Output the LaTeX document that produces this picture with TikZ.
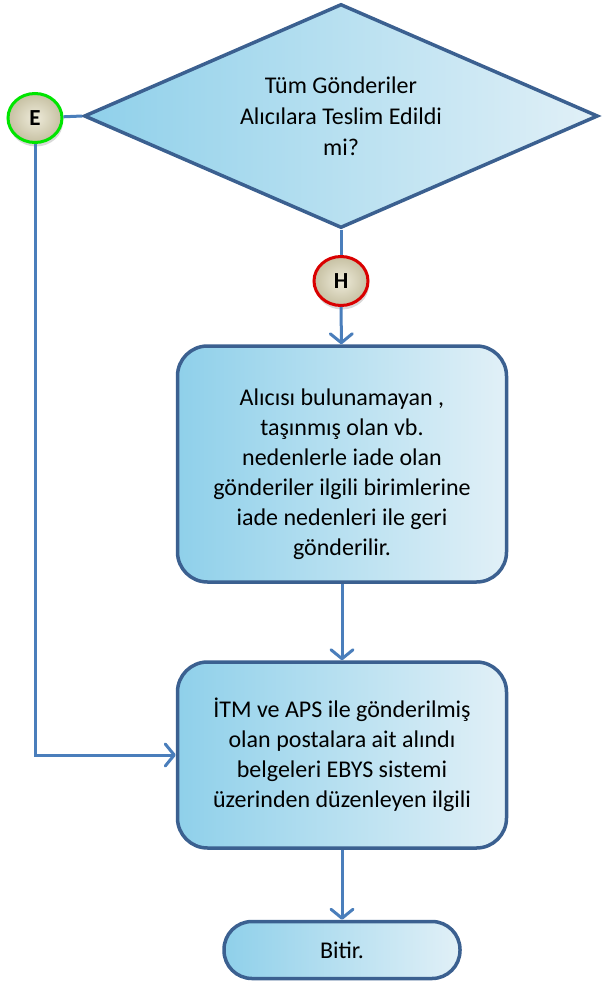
\documentclass[tikz,border=0pt]{standalone}
\usepackage{fontspec}
\setmainfont{Carlito}
\usepackage{xcolor}
\usepackage{tikz}
\usetikzlibrary{positioning,shapes.geometric,arrows.meta,shadows}

\definecolor{lineblue}{HTML}{4A7EBB}
\definecolor{edgeblue}{HTML}{3B6090}
\definecolor{fillleft}{HTML}{8FD0EA}
\definecolor{fillright}{HTML}{E1F0F7}
\definecolor{knobin}{HTML}{EEEBDA}
\definecolor{knobout}{HTML}{C6C0A2}

\tikzset{
	flow/.style={draw=edgeblue, line width=3.5pt, left color=fillleft, right color=fillright, align=center, inner sep=0pt},
	decision/.style={flow, shape=diamond, aspect=2.3, minimum width=514pt, minimum height=224pt, font=\fontsize{24}{31}\selectfont},
	process/.style={flow, rounded corners=30pt, minimum width=329pt, font=\fontsize{24}{30}\selectfont},
	terminal/.style={flow, rounded corners=28pt, minimum width=236pt, minimum height=57pt, font=\fontsize{24}{30}\selectfont},
	knob/.style={shape=ellipse, line width=3pt, inner color=knobin, outer color=knobout, minimum width=54pt, minimum height=49pt, inner sep=0pt, font=\fontsize{23}{23}\selectfont\bfseries, drop shadow={shadow xshift=1pt, shadow yshift=-4pt, opacity=0.3}},
	conn/.style={draw=lineblue, line width=3pt},
	arr/.style={conn, -{Straight Barb[length=9pt, width=22pt, round]}}
}

\begin{document}
\begin{tikzpicture}[x=1pt, y=-1pt]
	\useasboundingbox (0,0) rectangle (602,987);
	\node[decision] (dia) at (341,116) {Tüm Gönderiler\\Alıcılara Teslim Edildi\\mi?};
	\node[knob, draw=green!90!black] (e) at (35,118) {E};
	\node[knob, draw=red!85!black] (h) at (341,281) {H};
	\node[process, minimum height=236pt] (iade) at (342,464) {\rule{0pt}{37pt}Alıcısı bulunamayan ,\\taşınmış olan vb.\\nedenlerle iade olan\\gönderiler ilgili birimlerine\\iade nedenleri ile geri\\gönderilir.};
	\node[process, minimum height=186pt] (belge) at (342,755) {İTM ve APS ile gönderilmiş\\olan postalara ait alındı\\belgeleri EBYS sistemi\\üzerinden düzenleyen ilgili};
	\node[terminal] (bitir) at (342,950) {Bitir.};
	\draw[conn] (e) -- (dia.west);
	\draw[conn] (dia.south) -- (h);
	\draw[arr] (h) -- (iade);
	\draw[arr] (iade) -- (belge);
	\draw[arr] (belge) -- (bitir);
	\draw[arr] (e) |- (belge.west);
\end{tikzpicture}
\end{document}
